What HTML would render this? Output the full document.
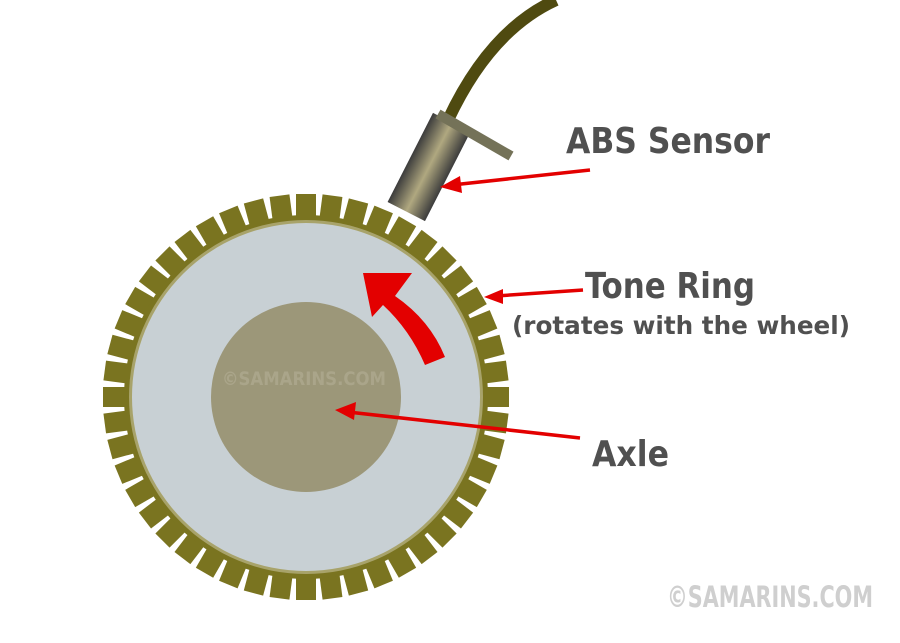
<!DOCTYPE html>
<html><head><meta charset="utf-8"><style>
body{margin:0;background:#fff;width:900px;height:643px;overflow:hidden}
svg{display:block}
text{font-family:"DejaVu Sans Condensed","DejaVu Sans",sans-serif;fill:#505050;font-weight:bold}
</style></head><body>
<svg width="900" height="643" viewBox="0 0 900 643">
<defs>
<linearGradient id="cyl" x1="0" y1="0" x2="1" y2="0">
<stop offset="0" stop-color="#3c3c3c"/><stop offset="0.5" stop-color="#b0a880"/><stop offset="1" stop-color="#3c3c3c"/>
</linearGradient>
</defs>
<path d="M448,120 Q490,30 556,0" stroke="#4f4a10" stroke-width="12" fill="none"/>
<g id="teeth"></g>
<circle cx="306" cy="397" r="182" fill="#7a7420"/>
<circle cx="306" cy="397" r="177" fill="#a8a36a"/>
<circle cx="306" cy="397" r="174" fill="#c8d0d4"/>
<circle cx="306" cy="397" r="95" fill="#9c9779"/>
<text x="222" y="385" font-size="19" textLength="164" lengthAdjust="spacingAndGlyphs" style="fill:#aaa58a">©SAMARINS.COM</text>
<g transform="translate(429,167) rotate(27)">
<rect x="-21" y="-50" width="42" height="100" fill="url(#cyl)"/>
</g>
<line x1="438" y1="114" x2="511" y2="156" stroke="#747258" stroke-width="10"/>
<path d="M445,357 Q430,320 395,296 L412,273 L363,273 L372,317 L383,305 Q410,330 425,365 Z" fill="#e30000"/>
<g stroke="#e30000" stroke-width="3.5">
<line x1="590" y1="170" x2="452" y2="185"/>
<line x1="583" y1="290" x2="496" y2="296"/>
<line x1="580" y1="438" x2="348" y2="412"/>
</g>
<g fill="#e30000">
<polygon points="440,187 460,176 462,193"/>
<polygon points="484,297 503,289 503,304"/>
<polygon points="335,410 356,402 354,420"/>
</g>
<text x="566" y="153" font-size="36" textLength="204" lengthAdjust="spacingAndGlyphs">ABS Sensor</text>
<text x="585" y="298" font-size="36" textLength="170" lengthAdjust="spacingAndGlyphs">Tone Ring</text>
<text x="512" y="334" font-size="25" textLength="338" lengthAdjust="spacingAndGlyphs">(rotates with the wheel)</text>
<text x="592" y="466" font-size="36" textLength="77" lengthAdjust="spacingAndGlyphs">Axle</text>
<text x="667" y="607" font-size="29" textLength="206" lengthAdjust="spacingAndGlyphs" style="fill:#cfcfcf">©SAMARINS.COM</text>
</svg>
<script>
var g=document.getElementById('teeth'),s='';
for(var i=0;i<48;i++){var a=i*7.5;
s+='<rect x="-10" y="-203" width="20" height="26" fill="#7a7420" transform="translate(306,397) rotate('+a+')"/>';}
g.innerHTML=s;
</script>
</body></html>
